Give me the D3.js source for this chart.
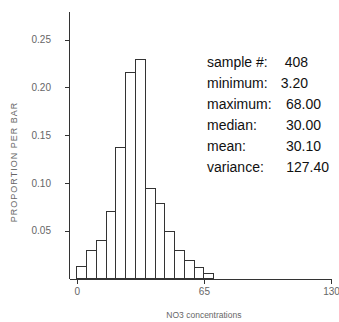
<!DOCTYPE html>
<html>
<head>
<meta charset="utf-8">
<script src="https://cdn.jsdelivr.net/npm/d3@7"></script>
<style>
  html, body { margin: 0; padding: 0; background: #fff; }
  svg { display: block; }
</style>
</head>
<body>
<svg id="chart" width="339" height="322"></svg>
<script>
// Histogram bins (NO3 concentration, lower edge) and bar width
const binStarts = [0, 5, 10, 15, 20, 25, 30, 35, 40, 45, 50, 55, 60, 65];
const binWidth = 5;
// Proportion per bar
const proportions = [0.013, 0.029, 0.040, 0.070, 0.137, 0.216, 0.229, 0.094, 0.078, 0.049, 0.029, 0.019, 0.011, 0.005];
// Axis ticks
const xTicks = [0, 65, 130];
const yTicks = [0.05, 0.10, 0.15, 0.20, 0.25];
// Summary statistics
const statLabels = ["sample #:", "minimum:", "maximum:", "median:", "mean:", "variance:"];
const statValues = ["408", "3.20", "68.00", "30.00", "30.10", "127.40"];

const svg = d3.select("#chart");
const x = d3.scaleLinear().domain([-4, 130]).range([69, 331]);
const y = d3.scaleLinear().domain([0, 0.28]).range([278.5, 11]);

const bars = binStarts.map((s, i) => ({ x0: s, x1: s + binWidth, v: proportions[i] }));

svg.append("g").selectAll("rect").data(bars).join("rect")
  .attr("x", d => x(d.x0))
  .attr("y", d => y(d.v))
  .attr("width", d => x(d.x1) - x(d.x0))
  .attr("height", d => y(0) - y(d.v))
  .attr("fill", "#fff")
  .attr("stroke", "#333")
  .attr("stroke-width", 1)
  .attr("shape-rendering", "crispEdges");

const yAxis = svg.append("g")
  .attr("transform", `translate(${x(-4)},0)`)
  .call(d3.axisLeft(y).tickValues(yTicks).tickFormat(d3.format(".2f")).tickSize(4).tickSizeOuter(0).tickPadding(14));
const xAxis = svg.append("g")
  .attr("transform", `translate(0,${y(0)})`)
  .call(d3.axisBottom(x).tickValues(xTicks).tickFormat(d3.format("d")).tickSize(5).tickSizeOuter(0).tickPadding(4));

[yAxis, xAxis].forEach(g => {
  g.selectAll("path, line").attr("stroke", "#333").attr("shape-rendering", "crispEdges");
  g.selectAll("text").attr("fill", "#666").style("font-family", "Liberation Sans, Arial, sans-serif").style("font-size", "10px");
});

svg.append("text")
  .attr("transform", "translate(17,162) rotate(-90)")
  .attr("text-anchor", "middle")
  .attr("fill", "#666")
  .style("font-family", "Liberation Sans, Arial, sans-serif")
  .style("font-size", "9px")
  .style("letter-spacing", "1px")
  .text("PROPORTION PER BAR");

svg.append("text")
  .attr("x", x(65))
  .attr("y", 318)
  .attr("text-anchor", "middle")
  .attr("fill", "#666")
  .style("font-family", "Liberation Sans, Arial, sans-serif")
  .style("font-size", "8.5px")
  .text("NO3 concentrations");

const valueEnd = [308, 308, 321, 321, 321, 329];
const stats = svg.append("g")
  .style("font-family", "Liberation Sans, Arial, sans-serif")
  .style("font-size", "14px")
  .attr("fill", "#111");
statLabels.forEach((l, i) => {
  const yy = 67 + i * 21;
  stats.append("text").attr("x", 207).attr("y", yy).text(l);
  stats.append("text").attr("x", valueEnd[i]).attr("y", yy).attr("text-anchor", "end").text(statValues[i]);
});
</script>
</body>
</html>
